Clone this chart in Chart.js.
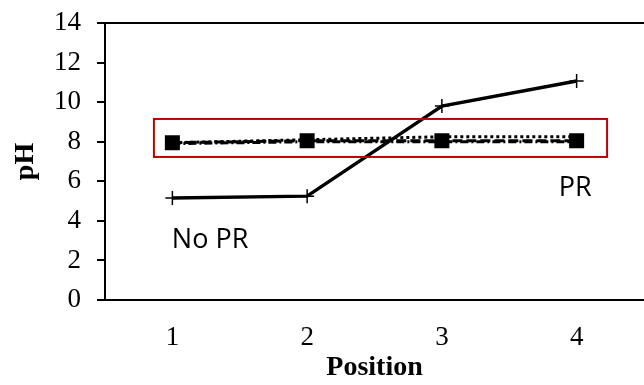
<!DOCTYPE html>
<html><head><meta charset="utf-8">
<script src="https://cdn.jsdelivr.net/npm/chart.js@4"></script>
<style>html,body{margin:0;padding:0;background:#fff}#wrap{width:644px;height:385px}</style>
</head><body><div id="wrap"><canvas id="c" width="644" height="385"></canvas></div>
<script>
const positions = ['1', '2', '3', '4'];
const noPR = [5.15, 5.25, 9.8, 11.07];
const prSquare = [7.95, 8.05, 8.05, 8.05];
const prCircle = [7.95, 8.1, 8.25, 8.25];
const prDashDot = [7.9, 8.0, 8.0, 8.0];
const yTicks = [0, 2, 4, 6, 8, 10, 12, 14];

const overlay = {
  id: 'overlay',
  afterDraw(chart) {
    const ctx = chart.ctx, x = chart.scales.x, y = chart.scales.y, a = chart.chartArea;
    ctx.save();
    ctx.strokeStyle = '#000'; ctx.lineWidth = 2;
    ctx.beginPath(); ctx.moveTo(a.left - 8, a.top); ctx.lineTo(644, a.top); ctx.stroke();
    const toX = v => x.left + (v + 0.5) * (x.width / positions.length);
    ctx.strokeStyle = '#c00000'; ctx.lineWidth = 2;
    const x0 = toX(-0.137), x1 = toX(3.226), y0 = y.getPixelForValue(9.15), y1 = y.getPixelForValue(7.23);
    ctx.strokeRect(x0, y0, x1 - x0, y1 - y0);
    ctx.fillStyle = '#000';
    ctx.font = '27px "Open Sans", sans-serif';
    ctx.textAlign = 'center'; ctx.textBaseline = 'middle';
    ctx.fillText('No PR', toX(0.28), y.getPixelForValue(3.0));
    ctx.fillText('PR', toX(2.99), y.getPixelForValue(5.66));
    ctx.restore();
  }
};

function noPad(s) { s.paddingTop = 0; s.paddingBottom = 0; s.paddingLeft = 0; s.paddingRight = 0; }

new Chart(document.getElementById('c'), {
  type: 'line',
  data: {
    labels: positions,
    datasets: [
      { data: prDashDot, borderColor: '#000', borderWidth: 3, borderDash: [8, 3, 2, 3], pointStyle: 'triangle', pointRadius: 5, pointBackgroundColor: '#000', pointBorderColor: '#000' },
      { data: prSquare, borderColor: '#000', borderWidth: 3, borderDash: [10, 4], pointStyle: 'rect', pointRadius: 8.5, pointBackgroundColor: '#000', pointBorderColor: '#000' },
      { data: prCircle, borderColor: '#000', borderWidth: 3, borderDash: [3, 3], pointStyle: 'circle', pointRadius: 5, pointBackgroundColor: 'rgba(0,0,0,0)', pointBorderColor: '#fff', pointBorderWidth: 1.5 },
      { data: noPR, borderColor: '#000', borderWidth: 3.5, pointStyle: 'cross', pointRadius: 7, pointBorderColor: '#000', pointBorderWidth: 1.5 }
    ]
  },
  options: {
    responsive: false, animation: false, devicePixelRatio: 1,
    layout: { autoPadding: false, padding: { top: 23, right: 0, left: 0, bottom: 0 } },
    plugins: { legend: { display: false }, tooltip: { enabled: false } },
    elements: { line: { tension: 0 } },
    scales: {
      x: {
        offset: true,
        grid: { display: false, drawTicks: false },
        border: { display: true, color: '#000', width: 2 },
        ticks: { color: '#000', font: { family: '"Liberation Serif", "Times New Roman", serif', size: 27 }, padding: 22, maxRotation: 0 },
        title: { display: true, text: 'Position', color: '#000', font: { family: '"Liberation Serif", "Times New Roman", serif', size: 28, weight: 'bold' }, padding: { top: 0, bottom: 0 } },
        afterFit(s) { s.height = 85; noPad(s); }
      },
      y: {
        min: 0, max: 14,
        afterBuildTicks(s) { s.ticks = yTicks.map(v => ({ value: v })); },
        grid: { display: true, drawOnChartArea: false, drawTicks: true, tickLength: 8, color: '#000', lineWidth: 2 },
        border: { display: true, color: '#000', width: 2 },
        ticks: { color: '#000', font: { family: '"Liberation Serif", "Times New Roman", serif', size: 27 }, padding: 16 },
        title: { display: true, text: 'pH', color: '#000', font: { family: '"Liberation Serif", "Times New Roman", serif', size: 28, weight: 'bold' }, padding: { top: 9, bottom: 0 } },
        afterFit(s) { s.width = 105; noPad(s); }
      }
    }
  },
  plugins: [overlay]
});
</script></body></html>
